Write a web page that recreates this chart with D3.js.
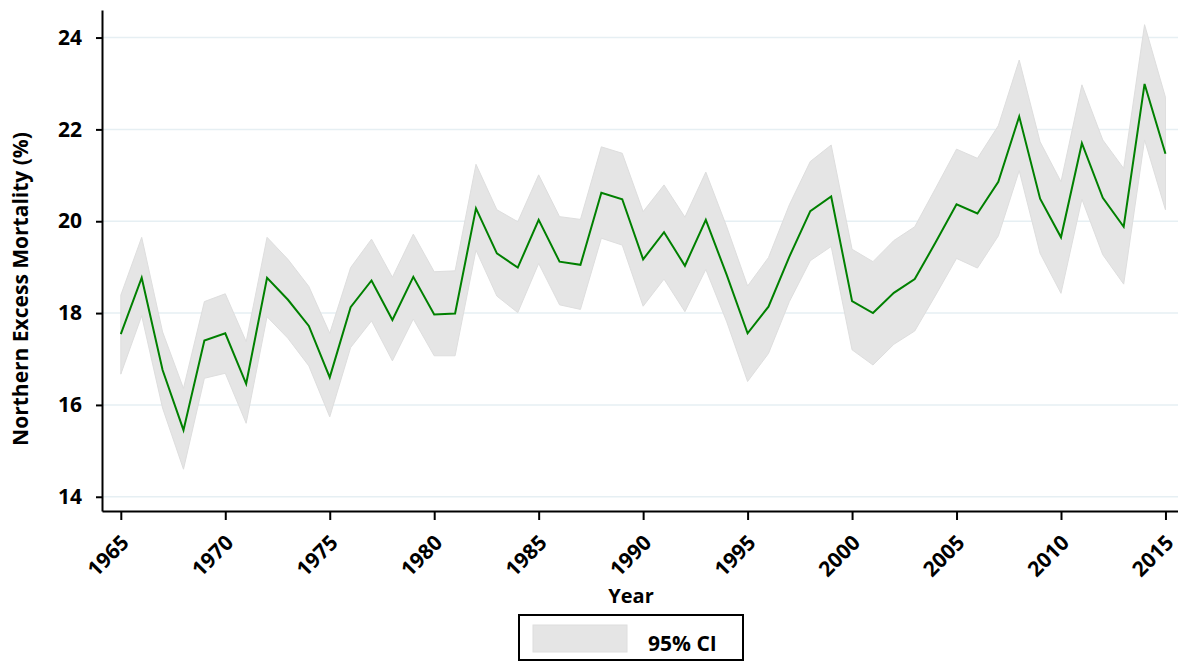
<!DOCTYPE html>
<html>
<head>
<meta charset="utf-8">
<script src="https://cdn.jsdelivr.net/npm/d3@7"></script>
<style>
  body { margin: 0; background: #fff; }
  text { font-family: "Open Sans", Lato, sans-serif; font-weight: bold; fill: #000; }
</style>
</head>
<body>
<svg id="chart" width="1178" height="661"></svg>
<script>
// data
var years = d3.range(1965, 2016);
var mortality = [17.54, 18.77, 16.76, 15.45, 17.40, 17.56, 16.46, 18.77, 18.29, 17.72,
                 16.60, 18.13, 18.71, 17.85, 18.79, 17.97, 17.99, 20.28, 19.30, 18.99,
                 20.03, 19.12, 19.05, 20.62, 20.48, 19.17, 19.76, 19.03, 20.03, 18.83,
                 17.56, 18.14, 19.23, 20.22, 20.54, 18.26, 18.00, 18.44, 18.74, 19.54,
                 20.37, 20.17, 20.86, 22.28, 20.49, 19.65, 21.70, 20.51, 19.88, 22.99, 21.47];
var ciUpper = [18.39, 19.65, 17.59, 16.36, 18.25, 18.42, 17.38, 19.65, 19.17, 18.58,
               17.56, 18.99, 19.61, 18.78, 19.72, 18.90, 18.92, 21.24, 20.25, 19.99,
               21.01, 20.10, 20.04, 21.62, 21.48, 20.21, 20.79, 20.09, 21.07, 19.88,
               18.59, 19.21, 20.36, 21.30, 21.66, 19.39, 19.12, 19.58, 19.88, 20.72,
               21.57, 21.37, 22.08, 23.51, 21.73, 20.86, 22.97, 21.77, 21.15, 24.28, 22.70];
var ciLower = [16.67, 17.94, 15.93, 14.60, 16.58, 16.69, 15.60, 17.92, 17.45, 16.85,
               15.74, 17.25, 17.83, 16.96, 17.87, 17.07, 17.07, 19.37, 18.37, 18.01,
               19.08, 18.18, 18.08, 19.63, 19.48, 18.15, 18.74, 18.03, 18.95, 17.81,
               16.51, 17.12, 18.25, 19.14, 19.45, 17.20, 16.87, 17.32, 17.61, 18.39,
               19.19, 18.98, 19.68, 21.10, 19.30, 18.43, 20.48, 19.27, 18.63, 21.77, 20.25];
var xTicks = d3.range(1965, 2016, 5);
var yTicks = [14, 16, 18, 20, 22, 24];

var svg = d3.select("#chart");
// plot edges (note: "top" clashes with window.top, so use other names)
var plotL = 102, plotR = 1178, plotT = 10, plotB = 511;

var x = d3.scaleLinear().domain([1964.1, 2015.6]).range([plotL, plotR]);
var y = d3.scaleLinear().domain([13.69, 24.6]).range([plotB, plotT]);

var rows = years.map(function (yr, i) {
    return { year: yr, v: mortality[i], hi: ciUpper[i], lo: ciLower[i] };
});

// gridlines
svg.append("g").selectAll("line")
    .data(yTicks)
    .enter().append("line")
    .attr("x1", plotL).attr("x2", plotR)
    .attr("y1", function (d) { return y(d); })
    .attr("y2", function (d) { return y(d); })
    .attr("stroke", "#e6eff3")
    .attr("stroke-width", 1.5);

// confidence band
var band = d3.area()
    .x(function (d) { return x(d.year); })
    .y0(function (d) { return y(d.lo); })
    .y1(function (d) { return y(d.hi); });

svg.append("path")
    .datum(rows)
    .attr("d", band)
    .attr("fill", "#e5e5e5")
    .attr("stroke", "#dedede")
    .attr("stroke-width", 1);

// estimate line
var line = d3.line()
    .x(function (d) { return x(d.year); })
    .y(function (d) { return y(d.v); });

svg.append("path")
    .datum(rows)
    .attr("d", line)
    .attr("fill", "none")
    .attr("stroke", "#008000")
    .attr("stroke-width", 2);

// axes
var yAxis = svg.append("g")
    .attr("transform", "translate(" + plotL + ",0)")
    .call(d3.axisLeft(y).tickValues(yTicks).tickSize(6).tickPadding(14).tickSizeOuter(0));
yAxis.select(".domain").attr("stroke-width", 2);
yAxis.selectAll(".tick line").attr("stroke-width", 2);
yAxis.selectAll("text").style("font-size", "21px");

var xAxis = svg.append("g")
    .attr("transform", "translate(0," + plotB + ")")
    .call(d3.axisBottom(x).tickValues(xTicks).tickFormat(d3.format("d")).tickSize(9).tickSizeOuter(0));
xAxis.select(".domain").attr("stroke-width", 2);
xAxis.selectAll(".tick line").attr("stroke-width", 2);
xAxis.selectAll("text")
    .style("font-size", "21px")
    .attr("text-anchor", "end")
    .attr("x", 0).attr("y", 0).attr("dy", null)
    .attr("transform", "translate(9,33) rotate(-45)");

// axis titles
svg.append("text")
    .attr("x", 631).attr("y", 603)
    .attr("text-anchor", "middle")
    .style("font-size", "20px")
    .text("Year");

svg.append("text")
    .attr("transform", "translate(28,289) rotate(-90)")
    .attr("text-anchor", "middle")
    .style("font-size", "21px")
    .text("Northern Excess Mortality (%)");

// legend
var legend = svg.append("g");
legend.append("rect")
    .attr("x", 519).attr("y", 615).attr("width", 224).attr("height", 45)
    .attr("fill", "#fff").attr("stroke", "#000").attr("stroke-width", 2);
legend.append("rect")
    .attr("x", 533).attr("y", 625).attr("width", 94).attr("height", 27)
    .attr("fill", "#e5e5e5").attr("stroke", "#dedede");
legend.append("text")
    .attr("x", 648).attr("y", 651)
    .style("font-size", "21px")
    .text("95% CI");
</script>
</body>
</html>
